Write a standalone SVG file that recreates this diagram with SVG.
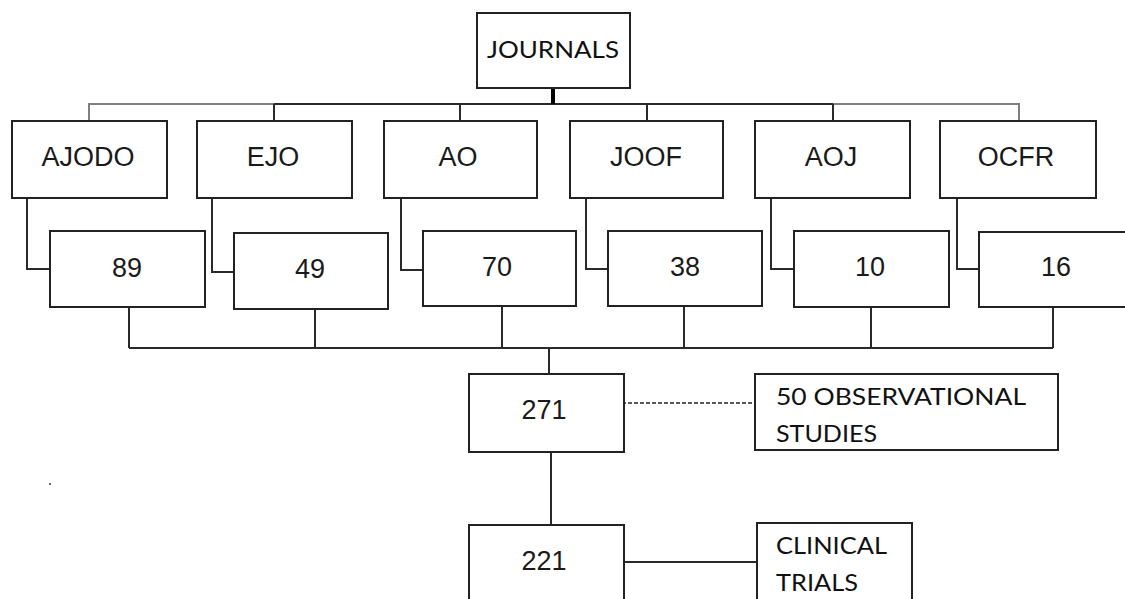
<svg xmlns="http://www.w3.org/2000/svg" width="1125" height="599" viewBox="0 0 1125 599">
<style>
.box{fill:#fff;stroke:#222;stroke-width:2}
.ln{fill:none;stroke:#2a2a2a;stroke-width:2}
.lg{fill:none;stroke:#808080;stroke-width:2}
.t{font-family:"Liberation Sans",Arial,sans-serif;font-size:27px;fill:#1a1a1a;text-anchor:middle}
.c{font-family:Lato,"Open Sans",sans-serif;font-size:24px;fill:#111}
</style>
<rect width="1125" height="599" fill="#fff"/>
<g id="connectors">
<path class="lg" d="M89,121V104H274M833,104H1019V121"/>
<path class="ln" d="M274,104H833M274,104V121M460,104V121M647,104V121M833,104V121"/>
<path d="M553,88V104" stroke="#000" stroke-width="4" fill="none"/>
<path class="ln" d="M27,198V269H50M212,198V272H234M401,198V270H423M586,198V269H608M771,198V269H794M957,198V269H979"/>
<path class="ln" d="M129,307V348M315,309V348M502,306V348M684,306V348M871,307V348M1053,307V348M129,348H1053M549,348V374"/>
<path d="M622,403H752" stroke="#222" stroke-width="1.5" stroke-dasharray="4,2" fill="none"/>
<path class="ln" d="M551,452V525M624,562H757"/>
</g>
<g id="journals"><rect class="box" x="477" y="13" width="153" height="75"/><text class="c" x="487" y="58" textLength="132" lengthAdjust="spacingAndGlyphs">JOURNALS</text></g>
<g id="ajodo"><rect class="box" x="12" y="121" width="155" height="77"/><text class="t" x="88" y="166">AJODO</text></g>
<g id="ejo"><rect class="box" x="197" y="121" width="155" height="77"/><text class="t" x="273" y="166">EJO</text></g>
<g id="ao"><rect class="box" x="384" y="121" width="153" height="77"/><text class="t" x="458" y="166">AO</text></g>
<g id="joof"><rect class="box" x="570" y="121" width="153" height="77"/><text class="t" x="646" y="166">JOOF</text></g>
<g id="aoj"><rect class="box" x="755" y="121" width="155" height="77"/><text class="t" x="831" y="166">AOJ</text></g>
<g id="ocfr"><rect class="box" x="940" y="121" width="156" height="77"/><text class="t" x="1016" y="166">OCFR</text></g>
<g id="n89"><rect class="box" x="50" y="231" width="155" height="76"/><text class="t" x="127" y="277">89</text></g>
<g id="n49"><rect class="box" x="234" y="233" width="154" height="76"/><text class="t" x="310" y="278">49</text></g>
<g id="n70"><rect class="box" x="423" y="231" width="153" height="75"/><text class="t" x="497" y="276">70</text></g>
<g id="n38"><rect class="box" x="608" y="231" width="154" height="75"/><text class="t" x="685" y="276">38</text></g>
<g id="n10"><rect class="box" x="794" y="231" width="155" height="76"/><text class="t" x="870" y="276">10</text></g>
<g id="n16"><rect class="box" x="979" y="232" width="160" height="75"/><text class="t" x="1056" y="276">16</text></g>
<g id="n271"><rect class="box" x="469" y="374" width="155" height="78"/><text class="t" x="544" y="419">271</text></g>
<g id="obs"><rect class="box" x="755" y="374" width="303" height="76"/><text class="c" x="776" y="405" textLength="250" lengthAdjust="spacingAndGlyphs">50 OBSERVATIONAL</text><text class="c" x="776" y="442" textLength="101" lengthAdjust="spacingAndGlyphs">STUDIES</text></g>
<g id="n221"><rect class="box" x="469" y="525" width="155" height="90"/><text class="t" x="544" y="570">221</text></g>
<g id="ct"><rect class="box" x="757" y="523" width="155" height="92"/><text class="c" x="776" y="554" textLength="111" lengthAdjust="spacingAndGlyphs">CLINICAL</text><text class="c" x="776" y="591" textLength="82" lengthAdjust="spacingAndGlyphs">TRIALS</text></g>
<rect x="49" y="483" width="2" height="2" fill="#666"/>
</svg>
